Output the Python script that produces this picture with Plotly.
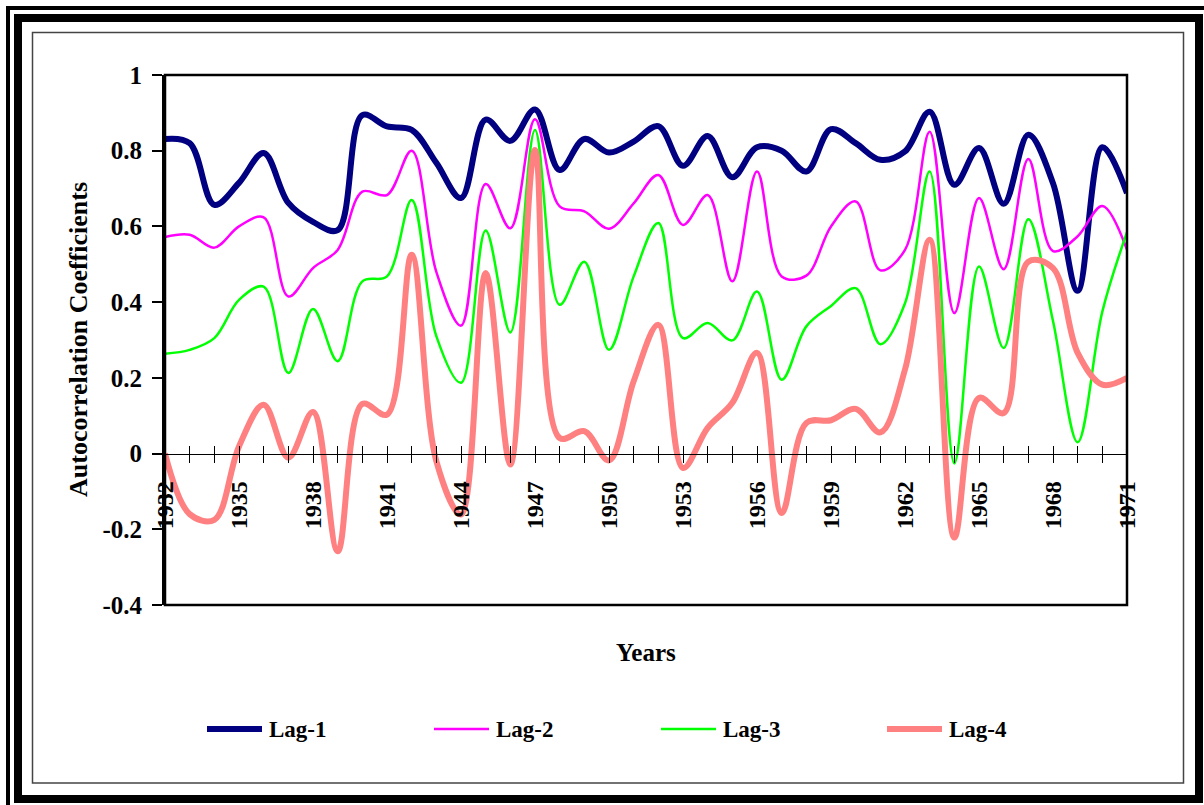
import plotly.graph_objects as go

# Autocorrelation coefficients by year, lags 1-4
years = list(range(1932, 1972))

lag1 = [0.831, 0.82, 0.657, 0.715, 0.794, 0.662, 0.612, 0.59, 0.894, 0.864,
        0.855, 0.768, 0.675, 0.882, 0.826, 0.909, 0.749, 0.831, 0.795, 0.824,
        0.865, 0.76, 0.839, 0.73, 0.809, 0.80, 0.745, 0.857, 0.82, 0.776,
        0.798, 0.903, 0.71, 0.807, 0.66, 0.842, 0.714, 0.43, 0.809, 0.688]

lag2 = [0.572, 0.578, 0.544, 0.60, 0.624, 0.415, 0.49, 0.538, 0.692, 0.683,
        0.80, 0.48, 0.338, 0.712, 0.595, 0.883, 0.653, 0.64, 0.594, 0.661,
        0.736, 0.604, 0.683, 0.455, 0.745, 0.468, 0.47, 0.60, 0.666, 0.484,
        0.538, 0.85, 0.371, 0.675, 0.487, 0.778, 0.535, 0.574, 0.654, 0.538]

lag3 = [0.264, 0.274, 0.305, 0.406, 0.441, 0.213, 0.382, 0.244, 0.455, 0.468,
        0.67, 0.31, 0.187, 0.589, 0.32, 0.855, 0.393, 0.507, 0.274, 0.468,
        0.609, 0.305, 0.345, 0.299, 0.428, 0.195, 0.336, 0.39, 0.437, 0.289,
        0.397, 0.745, -0.026, 0.494, 0.279, 0.619, 0.35, 0.03, 0.375, 0.585]

lag4 = [0.0, -0.16, -0.175, 0.019, 0.129, -0.011, 0.11, -0.258, 0.131, 0.103,
        0.525, -0.02, -0.161, 0.477, -0.029, 0.802, 0.041, 0.059, -0.018, 0.191,
        0.34, -0.038, 0.068, 0.134, 0.266, -0.157, 0.081, 0.088, 0.118, 0.056,
        0.222, 0.565, -0.222, 0.147, 0.107, 0.507, 0.49, 0.266, 0.182, 0.2]

series_names = ["Lag-1", "Lag-2", "Lag-3", "Lag-4"]
series_values = [lag1, lag2, lag3, lag4]
series_colors = ["#000080", "#FF00FF", "#00FF00", "#FF8080"]
series_widths = [6, 2.5, 2.5, 6]

y_ticks = [-0.4, -0.2, 0, 0.2, 0.4, 0.6, 0.8, 1]
y_ticktext = ["-0.4", "-0.2", "0", "0.2", "0.4", "0.6", "0.8", "1"]
x_ticktext = [str(y) if (y - 1932) % 3 == 0 else "" for y in years]

FONT = "Liberation Serif"
W, H = 1204, 805
L, R, T, B = 165, 1127, 75, 605   # plot area in pixels


def px(x):
    return (x - L) / (R - L)


def py(y):
    return (B - y) / (B - T)


fig = go.Figure()
for name, vals, col, wd in zip(series_names, series_values, series_colors, series_widths):
    fig.add_trace(go.Scatter(
        x=years, y=vals, name=name, mode="lines",
        line=dict(color=col, width=wd, shape="spline", smoothing=1.0),
        showlegend=False, xaxis="x", yaxis="y"))

# second x axis only for the inner half of the crossing tick marks
fig.add_trace(go.Scatter(x=[years[0]], y=[0], mode="markers", marker=dict(opacity=0),
                         showlegend=False, hoverinfo="skip", xaxis="x2", yaxis="y"))

# paper position of the y = 0 line
zero_pos = (0 - (-0.4)) / (1 - (-0.4))

fig.update_layout(
    width=W, height=H,
    margin=dict(l=L, r=W - R, t=T, b=H - B, pad=0),
    paper_bgcolor="white", plot_bgcolor="white",
    xaxis=dict(range=[1932, 1971], anchor="free", position=zero_pos,
               tickmode="array", tickvals=years, ticktext=x_ticktext,
               ticks="outside", ticklen=8, tickwidth=1, tickcolor="black",
               showline=True, linecolor="black", linewidth=1,
               showgrid=False, zeroline=False, tickangle=-90,
               ticklabelstandoff=9,
               tickfont=dict(family=FONT, size=24, color="black", weight="bold")),
    xaxis2=dict(range=[1932, 1971], overlaying="x", anchor="free", position=zero_pos,
                tickmode="array", tickvals=years, ticktext=[""] * len(years),
                ticks="inside", ticklen=8, tickwidth=1, tickcolor="black",
                showline=False, showgrid=False, zeroline=False),
    yaxis=dict(range=[-0.4, 1], tickmode="array", tickvals=y_ticks, ticktext=y_ticktext,
               ticks="outside", ticklen=10, tickwidth=1.5, tickcolor="black",
               showline=True, linecolor="black", linewidth=3,
               showgrid=False, zeroline=False, ticklabelstandoff=5,
               tickfont=dict(family=FONT, size=25, color="black", weight="bold")),
)

shapes = []
# plot area box
shapes.append(dict(type="rect", xref="paper", yref="paper", x0=0, y0=0, x1=1, y1=1,
                   line=dict(color="black", width=2.5), layer="above"))
# inner thin frame
shapes.append(dict(type="rect", xref="paper", yref="paper",
                   x0=px(32.5), y0=py(32.5), x1=px(1183.5), y1=py(783),
                   line=dict(color="#444444", width=1.5)))
# heavy double border
shapes.append(dict(type="rect", xref="paper", yref="paper",
                   x0=px(18), y0=py(18), x1=px(1199), y1=py(799),
                   line=dict(color="black", width=8)))
shapes.append(dict(type="rect", xref="paper", yref="paper",
                   x0=px(8), y0=py(8), x1=px(1212), y1=py(812),
                   line=dict(color="black", width=4)))

# legend swatches and labels
legend_x = [207, 434, 661, 887]
legend_y = 729
annotations = []
for name, col, wd, lx in zip(series_names, series_colors, series_widths, legend_x):
    shapes.append(dict(type="line", xref="paper", yref="paper",
                       x0=px(lx), y0=py(legend_y), x1=px(lx + 55), y1=py(legend_y),
                       line=dict(color=col, width=wd)))
    annotations.append(dict(xref="paper", yref="paper", x=px(lx + 60), y=py(legend_y),
                            text=name, showarrow=False, xanchor="left", yanchor="middle",
                            font=dict(family=FONT, size=23, color="black", weight="bold")))

annotations.append(dict(xref="paper", yref="paper", x=px(646), y=py(652), text="Years",
                        showarrow=False, xanchor="center", yanchor="middle",
                        font=dict(family=FONT, size=25, color="black", weight="bold")))
annotations.append(dict(xref="paper", yref="paper", x=px(78), y=py(340),
                        text="Autocorrelation Coefficients", textangle=-90,
                        showarrow=False, xanchor="center", yanchor="middle",
                        font=dict(family=FONT, size=26, color="black", weight="bold")))

fig.update_layout(shapes=shapes, annotations=annotations)

fig.write_html("out.html")
